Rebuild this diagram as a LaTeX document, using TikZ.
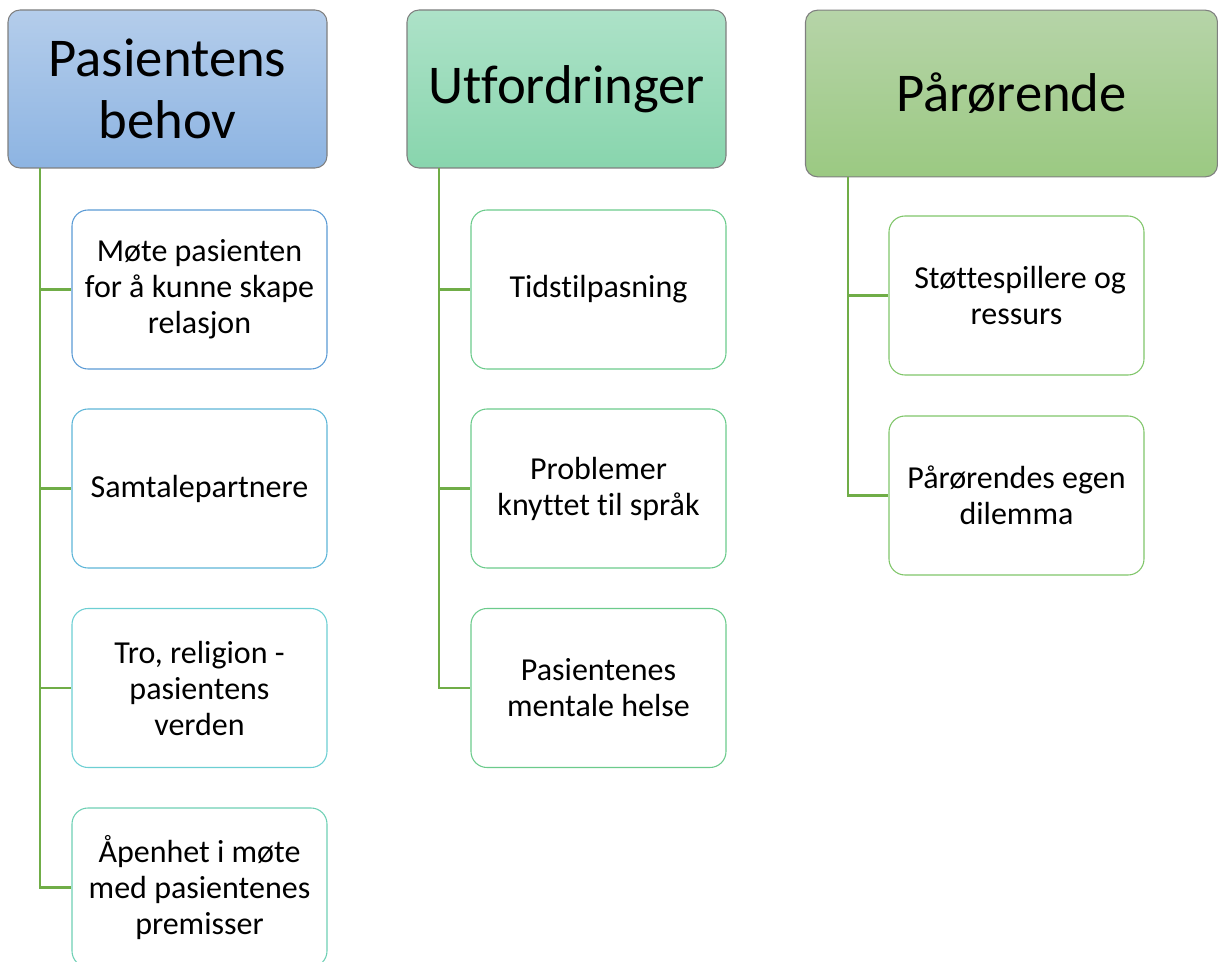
\documentclass[tikz,border=0pt]{standalone}
\usepackage{fontspec}
\setmainfont{Carlito}[Ligatures={NoCommon,NoContextual,NoRare}]
\definecolor{hbord}{HTML}{7F7F7F}
\definecolor{hAtop}{HTML}{B4CDEB}
\definecolor{hAbot}{HTML}{8DB4E2}
\definecolor{hBtop}{HTML}{ADE2C8}
\definecolor{hBbot}{HTML}{88D5AD}
\definecolor{hCtop}{HTML}{B6D4A8}
\definecolor{hCbot}{HTML}{9BC982}
\definecolor{bA}{HTML}{5B9BD5}
\definecolor{bB}{HTML}{5EB6D8}
\definecolor{bC}{HTML}{6DCFD3}
\definecolor{bD}{HTML}{6ED0B4}
\definecolor{bE}{HTML}{6CCB8C}
\definecolor{bF}{HTML}{80C66A}
\definecolor{conn}{HTML}{70AD47}
\tikzset{
  header/.style={draw=hbord, line width=0.8pt, rounded corners=9pt, align=center,
    inner sep=0pt, font=\fontsize{41}{46.5}\selectfont},
  childbox/.style={draw, line width=0.8pt, rounded corners=12pt, fill=white, align=center,
    inner sep=0pt, minimum width=191.25pt, minimum height=119.25pt,
    font=\fontsize{24}{27}\selectfont},
  link/.style={draw=conn, line width=2.1pt}
}
\begin{document}
\begin{tikzpicture}[x=0.75pt, y=-0.75pt]
\useasboundingbox (0,0) rectangle (1218,962);
\clip (0,0) rectangle (1218,962);
% headers
\node[header, top color=hAtop, bottom color=hAbot, minimum width=239.25pt, minimum height=118.5pt] (h1) at (167.5,89) {Pasientens\\behov};
\node[header, top color=hBtop, bottom color=hBbot, minimum width=239.25pt, minimum height=118.5pt] (h2) at (566.5,89) {Utfordringer};
\node[header, top color=hCtop, bottom color=hCbot, minimum width=309pt, minimum height=125pt] (h3) at (1011.5,93.5) {Pårørende};
% trunk starts
\coordinate (t1) at (40,168);
\coordinate (t2) at (439,168);
\coordinate (t3) at (848,177);
% column 1
\node[childbox, draw=bA] (c11) at (199.5,289.5) {Møte pasienten\\for å kunne skape\\relasjon};
\node[childbox, draw=bB] (c12) at (199.5,488.5) {Samtalepartnere};
\node[childbox, draw=bC] (c13) at (199.5,688) {Tro, religion -\\pasientens\\verden};
\node[childbox, draw=bD] (c14) at (199.5,887.5) {Åpenhet i møte\\med pasientenes\\premisser};
% column 2
\node[childbox, draw=bE] (c21) at (598.5,289.5) {Tidstilpasning};
\node[childbox, draw=bE] (c22) at (598.5,488.5) {Problemer\\knyttet til språk};
\node[childbox, draw=bE] (c23) at (598.5,688) {Pasientenes\\mentale helse};
% column 3
\node[childbox, draw=bF] (c31) at (1016.5,295.5) {\ Støttespillere og\\ressurs};
\node[childbox, draw=bF] (c32) at (1016.5,495.5) {Pårørendes egen\\dilemma};
% connectors
\draw[link] (t1) |- (c11.west);
\draw[link] (t1) |- (c12.west);
\draw[link] (t1) |- (c13.west);
\draw[link] (t1) |- (c14.west);
\draw[link] (t2) |- (c21.west);
\draw[link] (t2) |- (c22.west);
\draw[link] (t2) |- (c23.west);
\draw[link] (t3) |- (c31.west);
\draw[link] (t3) |- (c32.west);
\end{tikzpicture}
\end{document}
